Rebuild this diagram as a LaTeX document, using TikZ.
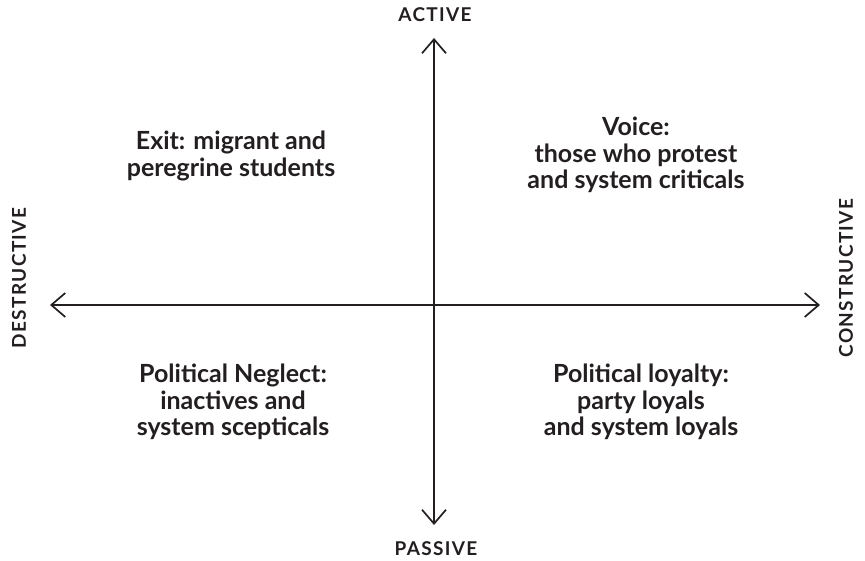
\documentclass[tikz,border=0pt]{standalone}
\usepackage{fontspec}
\setmainfont{Lato}
\usetikzlibrary{arrows.meta}
\definecolor{ink}{HTML}{231F20}
\tikzset{
  axis/.style={line width=1.7pt, draw=ink, -{Straight Barb[length=14pt,width=24pt,line width=1.7pt]}},
  axlabel/.style={font=\fontsize{19}{22}\selectfont\bfseries\addfontfeatures{LetterSpace=7}, text=ink, inner sep=0pt},
  quad/.style={font=\fontsize{25}{26.5}\selectfont\bfseries, text=ink, align=center, inner sep=0pt}
}
\begin{document}
\begin{tikzpicture}[x=1pt,y=-1pt]
\useasboundingbox (0,0) rectangle (865,561);
\coordinate (c) at (434,305);
\coordinate (top) at (434,38);
\coordinate (bot) at (434,525);
\coordinate (left) at (50,305);
\coordinate (right) at (820,305);
\draw[axis] (c) -- (top);
\draw[axis] (c) -- (bot);
\draw[axis] (c) -- (left);
\draw[axis] (c) -- (right);
\node[axlabel] (active) at (435,15) {ACTIVE};
\node[axlabel] (passive) at (436,549) {PASSIVE};
\node[axlabel, rotate=90] (destr) at (19,278) {DESTRUCTIVE};
\node[axlabel, rotate=90] (constr) at (846,278) {CONSTRUCTIVE};
\node[quad] (exit) at (231,156) {Exit: migrant and\\peregrine students};
\node[quad] (voice) at (636,155) {Voice:\\those who protest\\and system criticals};
\node[quad] (neglect) at (233,402) {Political Neglect:\\inactives and\\system scepticals};
\node[quad] (loyal) at (641,402) {Political loyalty:\\party loyals\\and system loyals};
\end{tikzpicture}
\end{document}
